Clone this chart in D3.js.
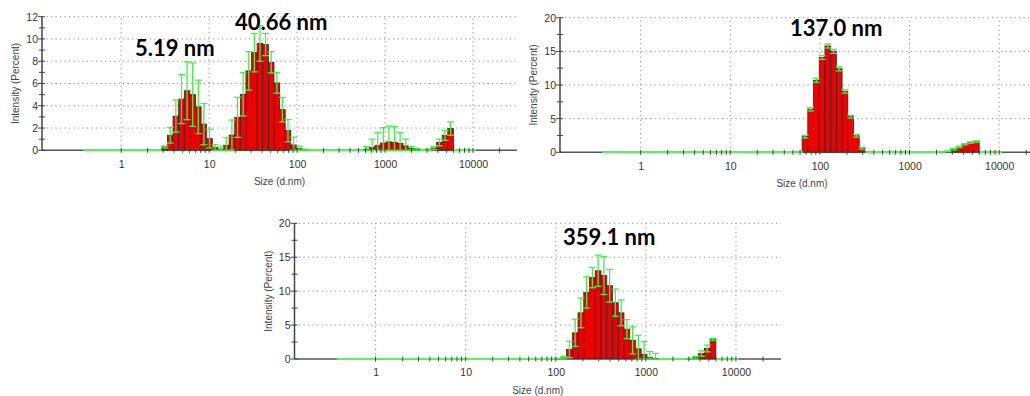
<html>
<head>
<script src="https://d3js.org/d3.v7.min.js"></script>
<style>
  body { margin: 0; background: #fff; }
  svg { display: block; }
  text { font-family: "Liberation Sans", Arial, sans-serif; }
  .peak { font-family: Lato, "Liberation Sans", sans-serif; font-weight: 700; }
</style>
</head>
<body>
<script>
// instrument size classes (d.nm), 70 bins
var sizeBins = [0.4, 0.4632, 0.5365, 0.6213, 0.7195, 0.8332, 0.9649, 1.117, 1.294, 1.499,
  1.736, 2.01, 2.328, 2.696, 3.122, 3.615, 4.187, 4.849, 5.615, 6.503,
  7.531, 8.721, 10.1, 11.7, 13.54, 15.69, 18.17, 21.04, 24.36, 28.21,
  32.67, 37.84, 43.82, 50.75, 58.77, 68.06, 78.82, 91.28, 105.7, 122.4,
  141.8, 164.2, 190.1, 220.2, 255.0, 295.3, 342.0, 396.1, 458.7, 531.2,
  615.1, 712.4, 825.0, 955.4, 1106, 1281, 1484, 1718, 1990, 2305,
  2669, 3091, 3580, 4145, 4801, 5560, 6439, 7456, 8635, 10000];

// top left
var sizesA = [3.122, 3.615, 4.187, 4.849, 5.615, 6.503, 7.531, 8.721, 10.1, 11.7,
  13.54, 15.69, 18.17, 21.04, 24.36, 28.21, 32.67, 37.84, 43.82, 50.75,
  58.77, 68.06, 78.82, 91.28, 105.7, 122.4,
  615.1, 712.4, 825.0, 955.4, 1106, 1281, 1484, 1718, 1990, 2305,
  3091, 3580, 4145, 4801, 5560];
var intensityA = [0.3, 1.35, 3.07, 4.6, 5.35, 5.0, 3.9, 2.35, 1.05, 0.25,
  0.1, 0.45, 1.37, 2.96, 5.03, 7.13, 8.77, 9.6, 9.5, 7.9,
  6.05, 3.65, 1.77, 0.48, 0.17, 0.05,
  0.05, 0.25, 0.45, 0.65, 0.75, 0.72, 0.62, 0.4, 0.18, 0.08,
  0.05, 0.2, 0.7, 1.35, 1.95];
var sdA = [0.1, 0.7, 1.45, 2.2, 2.6, 2.85, 2.4, 1.85, 0.85, 0.25,
  0.2, 0.7, 1.35, 1.8, 1.95, 1.73, 1.73, 1.6, 1.0, 0.95,
  0.92, 1.1, 1.0, 0.7, 0.2, 0.05,
  0.28, 0.75, 1.13, 1.38, 1.43, 1.4, 0.96, 0.6, 0.15, 0.1,
  0.05, 0.15, 0.3, 0.45, 0.6];
var peaksA = ["5.19 nm", "40.66 nm"];

// top right
var sizesB = [58.77, 68.06, 78.82, 91.28, 105.7, 122.4, 141.8, 164.2, 190.1, 220.2, 255.0, 295.3,
  2305, 2669, 3091, 3580, 4145, 4801, 5560];
var intensityB = [0.05, 2.32, 6.4, 10.7, 14.1, 15.8, 15.0, 12.4, 9.05, 5.3, 2.45, 0.6,
  0.05, 0.15, 0.45, 0.8, 1.2, 1.45, 1.6];
var sdB = [0.05, 0.2, 0.25, 0.3, 0.3, 0.3, 0.3, 0.3, 0.25, 0.2, 0.2, 0.15,
  0.05, 0.05, 0.1, 0.1, 0.1, 0.1, 0.1];
var peaksB = ["137.0 nm"];

// bottom
var sizesC = [105.7, 122.4, 141.8, 164.2, 190.1, 220.2, 255.0, 295.3, 342.0, 396.1,
  458.7, 531.2, 615.1, 712.4, 825.0, 955.4, 1106, 1281,
  3091, 3580, 4145, 4801, 5560];
var intensityC = [0.05, 0.15, 1.4, 3.85, 6.8, 9.8, 12.0, 13.0, 12.3, 10.8,
  8.3, 6.8, 4.4, 2.75, 1.5, 0.65, 0.2, 0.08,
  0.05, 0.2, 0.8, 1.55, 2.9];
var sdC = [0.05, 0.2, 1.2, 2.0, 2.2, 2.3, 1.5, 2.3, 2.8, 2.4,
  2.0, 1.9, 1.4, 2.0, 2.0, 1.9, 0.9, 0.75,
  0.05, 0.2, 0.4, 0.5, 0.15];
var peaksC = ["359.1 nm"];

var xMajor = [1, 10, 100, 1000, 10000];
var xTitle = "Size (d.nm)";
var yTitle = "Intensity (Percent)";

var W = 1030, H = 396;
var svg = d3.select("body").append("svg").attr("width", W).attr("height", H);
svg.append("rect").attr("width", W).attr("height", H).attr("fill", "#fff");

var halfBin = Math.sqrt(sizeBins[1] / sizeBins[0]);
var xMinor = [];
xMajor.forEach(function(m) {
  for (var k = 2; k <= 9; k++) xMinor.push(m * k);
});
xMinor = xMinor.filter(function(d) { return d <= 20000; });

var charts = [
  { sizes: sizesA, vals: intensityA, sd: sdA, peaks: peaksA, yMax: 12, yMajor: 2, yMinor: 1,
    left: 42, right: 517, zero: 150.3, top: 16.7, peakPos: [[135, 56], [235, 30]] },
  { sizes: sizesB, vals: intensityB, sd: sdB, peaks: peaksB, yMax: 20, yMajor: 5, yMinor: 2.5,
    left: 560, right: 1044, zero: 152.3, top: 17.7, peakPos: [[790, 36]] },
  { sizes: sizesC, vals: intensityC, sd: sdC, peaks: peaksC, yMax: 20, yMajor: 5, yMinor: 2.5,
    left: 294.5, right: 781, zero: 359, top: 223.3, peakPos: [[563, 245]] }
];

charts.forEach(drawChart);

function drawChart(c) {
  var g = svg.append("g");
  var x = d3.scaleLog().domain([Math.pow(10, -0.9), Math.pow(10, 4.5)]).range([c.left, c.right]);
  var y = d3.scaleLinear().domain([0, c.yMax]).range([c.zero, c.top]);
  var yMaj = d3.range(0, c.yMax + 0.001, c.yMajor);
  var yMin = d3.range(0, c.yMax + 0.001, c.yMinor);

  // dotted grid
  g.selectAll(".hg").data(yMaj.slice(1)).enter().append("line")
    .attr("x1", c.left).attr("x2", c.right)
    .attr("y1", function(d) { return y(d); }).attr("y2", function(d) { return y(d); })
    .attr("stroke", "#888").attr("stroke-width", 1).attr("stroke-dasharray", "1.2,3.3");
  g.selectAll(".vg").data(xMajor).enter().append("line")
    .attr("x1", function(d) { return x(d); }).attr("x2", function(d) { return x(d); })
    .attr("y1", c.zero).attr("y2", c.top)
    .attr("stroke", "#888").attr("stroke-width", 1).attr("stroke-dasharray", "1.2,3.3");

  // axis lines
  g.append("line").attr("x1", c.left).attr("x2", c.right).attr("y1", c.zero).attr("y2", c.zero)
    .attr("stroke", "#555").attr("stroke-width", 1.6);
  g.append("line").attr("x1", x(sizeBins[0] / halfBin)).attr("x2", x(sizeBins[sizeBins.length - 1] * halfBin))
    .attr("y1", c.zero).attr("y2", c.zero)
    .attr("stroke", "#5cf05c").attr("stroke-width", 2);
  g.append("line").attr("x1", c.left).attr("x2", c.left).attr("y1", c.zero).attr("y2", c.top)
    .attr("stroke", "#444").attr("stroke-width", 1.5);

  var data = c.sizes.map(function(s, i) { return { s: s, v: c.vals[i], sd: c.sd[i] }; });

  // bars
  g.selectAll(".bar").data(data).enter().append("rect")
    .attr("x", function(d) { return x(d.s / halfBin); })
    .attr("width", function(d) { return x(d.s * halfBin) - x(d.s / halfBin); })
    .attr("y", function(d) { return y(d.v); })
    .attr("height", function(d) { return c.zero - y(d.v); })
    .attr("fill", "#f20000").attr("stroke", "#2a2a2a").attr("stroke-width", 0.8);

  // error bars
  var eb = g.selectAll(".eb").data(data).enter().append("g").attr("stroke", "#44ee44").attr("stroke-width", 1.3);
  eb.append("line")
    .attr("x1", function(d) { return x(d.s); }).attr("x2", function(d) { return x(d.s); })
    .attr("y1", function(d) { return y(Math.max(0, d.v - d.sd)); })
    .attr("y2", function(d) { return y(d.v + d.sd); });
  eb.append("line")
    .attr("x1", function(d) { return x(d.s) - 3.5; }).attr("x2", function(d) { return x(d.s) + 3.5; })
    .attr("y1", function(d) { return y(d.v + d.sd); }).attr("y2", function(d) { return y(d.v + d.sd); });
  eb.append("line")
    .attr("x1", function(d) { return x(d.s) - 3.5; }).attr("x2", function(d) { return x(d.s) + 3.5; })
    .attr("y1", function(d) { return y(Math.max(0, d.v - d.sd)); })
    .attr("y2", function(d) { return y(Math.max(0, d.v - d.sd)); });

  // x ticks
  g.selectAll(".xt").data(xMajor.concat(xMinor)).enter().append("line")
    .attr("x1", function(d) { return x(d); }).attr("x2", function(d) { return x(d); })
    .attr("y1", c.zero - 2.5).attr("y2", c.zero + 2.5)
    .attr("stroke", "#444").attr("stroke-width", 1);

  // y ticks
  g.selectAll(".yt").data(yMin).enter().append("line")
    .attr("x1", function(d, i) { return c.left - (i % 2 === 0 ? 4 : 3); })
    .attr("x2", c.left + 3)
    .attr("y1", function(d) { return y(d); }).attr("y2", function(d) { return y(d); })
    .attr("stroke", "#444").attr("stroke-width", 1);

  // tick labels via d3 axes
  var xa = g.append("g").attr("transform", "translate(0," + c.zero + ")")
    .call(d3.axisBottom(x).tickValues(xMajor).tickFormat(d3.format("d")).tickSize(0).tickPadding(10));
  var ya = g.append("g").attr("transform", "translate(" + c.left + ",0)")
    .call(d3.axisLeft(y).tickValues(yMaj).tickFormat(d3.format("d")).tickSize(0).tickPadding(4));
  [xa, ya].forEach(function(a) {
    a.select(".domain").remove();
    a.selectAll("text").attr("font-family", "Liberation Sans, Arial, sans-serif")
      .attr("font-size", "10.5px").attr("fill", "#333");
  });

  // axis titles
  g.append("text").attr("x", (c.left + c.right) / 2).attr("y", c.zero + 35)
    .attr("text-anchor", "middle").attr("font-size", "10px").attr("fill", "#444").text(xTitle);
  g.append("text").attr("transform", "translate(" + (c.left - 23) + "," + ((c.zero + c.top) / 2) + ") rotate(-90)")
    .attr("text-anchor", "middle").attr("font-size", "10px").attr("fill", "#444").text(yTitle);

  // peak annotations
  c.peaks.forEach(function(p, i) {
    g.append("text").attr("class", "peak").attr("x", c.peakPos[i][0]).attr("y", c.peakPos[i][1])
      .attr("font-size", "22px").attr("fill", "#000").text(p);
  });
}
</script>
</body>
</html>
